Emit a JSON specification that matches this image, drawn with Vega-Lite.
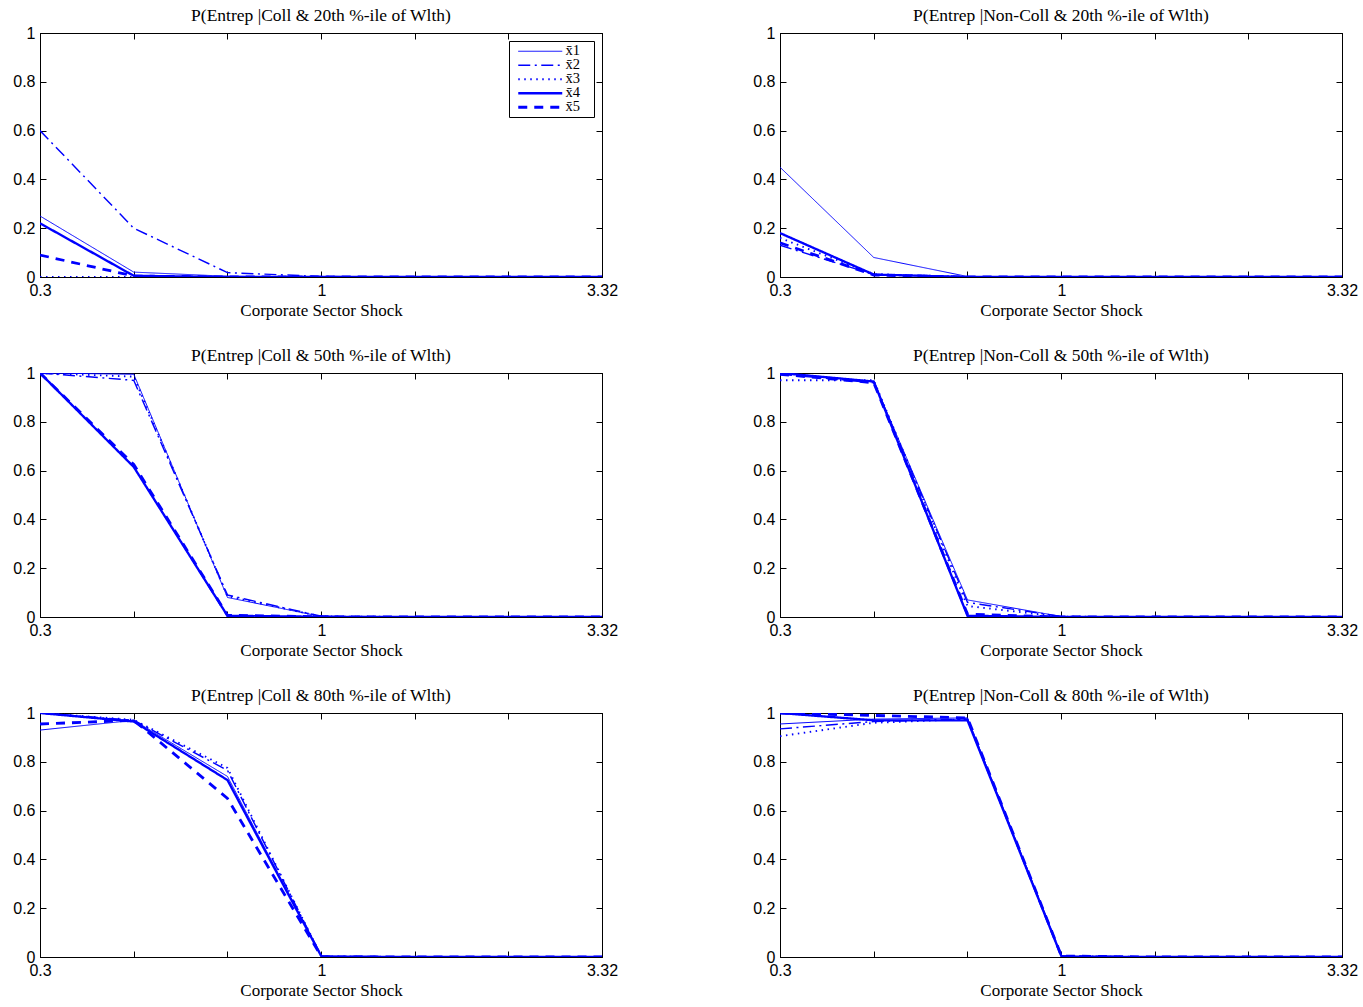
{
"$schema": "https://vega.github.io/schema/vega-lite/v6.json",
"padding": {"left": 12, "top": 6, "right": 5, "bottom": 5},
"background": "white",
"datasets": {"d": [
{"g":"A","s":"x1","x":0.3,"p":0.25},{"g":"A","s":"x1","x":0.448,"p":0.02},{"g":"A","s":"x1","x":0.669,"p":0.003},{"g":"A","s":"x1","x":1,"p":0},{"g":"A","s":"x1","x":1.49,"p":0},{"g":"A","s":"x1","x":2.224,"p":0},{"g":"A","s":"x1","x":3.32,"p":0},
{"g":"A","s":"x2","x":0.3,"p":0.6},{"g":"A","s":"x2","x":0.448,"p":0.2},{"g":"A","s":"x2","x":0.669,"p":0.018},{"g":"A","s":"x2","x":1,"p":0.002},{"g":"A","s":"x2","x":1.49,"p":0},{"g":"A","s":"x2","x":2.224,"p":0},{"g":"A","s":"x2","x":3.32,"p":0},
{"g":"A","s":"x3","x":0.3,"p":0},{"g":"A","s":"x3","x":0.448,"p":0},{"g":"A","s":"x3","x":0.669,"p":0},{"g":"A","s":"x3","x":1,"p":0},{"g":"A","s":"x3","x":1.49,"p":0},{"g":"A","s":"x3","x":2.224,"p":0},{"g":"A","s":"x3","x":3.32,"p":0},
{"g":"A","s":"x4","x":0.3,"p":0.22},{"g":"A","s":"x4","x":0.448,"p":0.005},{"g":"A","s":"x4","x":0.669,"p":0},{"g":"A","s":"x4","x":1,"p":0},{"g":"A","s":"x4","x":1.49,"p":0},{"g":"A","s":"x4","x":2.224,"p":0},{"g":"A","s":"x4","x":3.32,"p":0},
{"g":"A","s":"x5","x":0.3,"p":0.09},{"g":"A","s":"x5","x":0.448,"p":0.004},{"g":"A","s":"x5","x":0.669,"p":0},{"g":"A","s":"x5","x":1,"p":0},{"g":"A","s":"x5","x":1.49,"p":0},{"g":"A","s":"x5","x":2.224,"p":0},{"g":"A","s":"x5","x":3.32,"p":0},
{"g":"B","s":"x1","x":0.3,"p":0.45},{"g":"B","s":"x1","x":0.448,"p":0.08},{"g":"B","s":"x1","x":0.669,"p":0.002},{"g":"B","s":"x1","x":1,"p":0},{"g":"B","s":"x1","x":1.49,"p":0},{"g":"B","s":"x1","x":2.224,"p":0},{"g":"B","s":"x1","x":3.32,"p":0},
{"g":"B","s":"x2","x":0.3,"p":0.13},{"g":"B","s":"x2","x":0.448,"p":0.01},{"g":"B","s":"x2","x":0.669,"p":0},{"g":"B","s":"x2","x":1,"p":0},{"g":"B","s":"x2","x":1.49,"p":0},{"g":"B","s":"x2","x":2.224,"p":0},{"g":"B","s":"x2","x":3.32,"p":0},
{"g":"B","s":"x3","x":0.3,"p":0.16},{"g":"B","s":"x3","x":0.448,"p":0.012},{"g":"B","s":"x3","x":0.669,"p":0},{"g":"B","s":"x3","x":1,"p":0},{"g":"B","s":"x3","x":1.49,"p":0},{"g":"B","s":"x3","x":2.224,"p":0},{"g":"B","s":"x3","x":3.32,"p":0},
{"g":"B","s":"x4","x":0.3,"p":0.18},{"g":"B","s":"x4","x":0.448,"p":0.01},{"g":"B","s":"x4","x":0.669,"p":0},{"g":"B","s":"x4","x":1,"p":0},{"g":"B","s":"x4","x":1.49,"p":0},{"g":"B","s":"x4","x":2.224,"p":0},{"g":"B","s":"x4","x":3.32,"p":0},
{"g":"B","s":"x5","x":0.3,"p":0.14},{"g":"B","s":"x5","x":0.448,"p":0.008},{"g":"B","s":"x5","x":0.669,"p":0},{"g":"B","s":"x5","x":1,"p":0},{"g":"B","s":"x5","x":1.49,"p":0},{"g":"B","s":"x5","x":2.224,"p":0},{"g":"B","s":"x5","x":3.32,"p":0},
{"g":"C","s":"x1","x":0.3,"p":1},{"g":"C","s":"x1","x":0.448,"p":0.995},{"g":"C","s":"x1","x":0.669,"p":0.08},{"g":"C","s":"x1","x":1,"p":0.002},{"g":"C","s":"x1","x":1.49,"p":0},{"g":"C","s":"x1","x":2.224,"p":0},{"g":"C","s":"x1","x":3.32,"p":0},
{"g":"C","s":"x2","x":0.3,"p":1},{"g":"C","s":"x2","x":0.448,"p":0.97},{"g":"C","s":"x2","x":0.669,"p":0.09},{"g":"C","s":"x2","x":1,"p":0.003},{"g":"C","s":"x2","x":1.49,"p":0},{"g":"C","s":"x2","x":2.224,"p":0},{"g":"C","s":"x2","x":3.32,"p":0},
{"g":"C","s":"x3","x":0.3,"p":1},{"g":"C","s":"x3","x":0.448,"p":0.985},{"g":"C","s":"x3","x":0.669,"p":0.085},{"g":"C","s":"x3","x":1,"p":0.002},{"g":"C","s":"x3","x":1.49,"p":0},{"g":"C","s":"x3","x":2.224,"p":0},{"g":"C","s":"x3","x":3.32,"p":0},
{"g":"C","s":"x4","x":0.3,"p":1},{"g":"C","s":"x4","x":0.448,"p":0.615},{"g":"C","s":"x4","x":0.669,"p":0.005},{"g":"C","s":"x4","x":1,"p":0.001},{"g":"C","s":"x4","x":1.49,"p":0},{"g":"C","s":"x4","x":2.224,"p":0},{"g":"C","s":"x4","x":3.32,"p":0},
{"g":"C","s":"x5","x":0.3,"p":1},{"g":"C","s":"x5","x":0.448,"p":0.625},{"g":"C","s":"x5","x":0.669,"p":0.007},{"g":"C","s":"x5","x":1,"p":0.001},{"g":"C","s":"x5","x":1.49,"p":0},{"g":"C","s":"x5","x":2.224,"p":0},{"g":"C","s":"x5","x":3.32,"p":0},
{"g":"D","s":"x1","x":0.3,"p":1},{"g":"D","s":"x1","x":0.448,"p":0.965},{"g":"D","s":"x1","x":0.669,"p":0.07},{"g":"D","s":"x1","x":1,"p":0.002},{"g":"D","s":"x1","x":1.49,"p":0},{"g":"D","s":"x1","x":2.224,"p":0},{"g":"D","s":"x1","x":3.32,"p":0},
{"g":"D","s":"x2","x":0.3,"p":0.995},{"g":"D","s":"x2","x":0.448,"p":0.96},{"g":"D","s":"x2","x":0.669,"p":0.06},{"g":"D","s":"x2","x":1,"p":0.002},{"g":"D","s":"x2","x":1.49,"p":0},{"g":"D","s":"x2","x":2.224,"p":0},{"g":"D","s":"x2","x":3.32,"p":0},
{"g":"D","s":"x3","x":0.3,"p":0.97},{"g":"D","s":"x3","x":0.448,"p":0.97},{"g":"D","s":"x3","x":0.669,"p":0.045},{"g":"D","s":"x3","x":1,"p":0.001},{"g":"D","s":"x3","x":1.49,"p":0},{"g":"D","s":"x3","x":2.224,"p":0},{"g":"D","s":"x3","x":3.32,"p":0},
{"g":"D","s":"x4","x":0.3,"p":1},{"g":"D","s":"x4","x":0.448,"p":0.965},{"g":"D","s":"x4","x":0.669,"p":0.005},{"g":"D","s":"x4","x":1,"p":0},{"g":"D","s":"x4","x":1.49,"p":0},{"g":"D","s":"x4","x":2.224,"p":0},{"g":"D","s":"x4","x":3.32,"p":0},
{"g":"D","s":"x5","x":0.3,"p":0.995},{"g":"D","s":"x5","x":0.448,"p":0.96},{"g":"D","s":"x5","x":0.669,"p":0.012},{"g":"D","s":"x5","x":1,"p":0},{"g":"D","s":"x5","x":1.49,"p":0},{"g":"D","s":"x5","x":2.224,"p":0},{"g":"D","s":"x5","x":3.32,"p":0},
{"g":"E","s":"x1","x":0.3,"p":0.93},{"g":"E","s":"x1","x":0.448,"p":0.97},{"g":"E","s":"x1","x":0.669,"p":0.74},{"g":"E","s":"x1","x":1,"p":0.002},{"g":"E","s":"x1","x":1.49,"p":0},{"g":"E","s":"x1","x":2.224,"p":0},{"g":"E","s":"x1","x":3.32,"p":0},
{"g":"E","s":"x2","x":0.3,"p":1},{"g":"E","s":"x2","x":0.448,"p":0.97},{"g":"E","s":"x2","x":0.669,"p":0.765},{"g":"E","s":"x2","x":1,"p":0.003},{"g":"E","s":"x2","x":1.49,"p":0},{"g":"E","s":"x2","x":2.224,"p":0},{"g":"E","s":"x2","x":3.32,"p":0},
{"g":"E","s":"x3","x":0.3,"p":1},{"g":"E","s":"x3","x":0.448,"p":0.972},{"g":"E","s":"x3","x":0.669,"p":0.775},{"g":"E","s":"x3","x":1,"p":0.002},{"g":"E","s":"x3","x":1.49,"p":0},{"g":"E","s":"x3","x":2.224,"p":0},{"g":"E","s":"x3","x":3.32,"p":0},
{"g":"E","s":"x4","x":0.3,"p":1},{"g":"E","s":"x4","x":0.448,"p":0.965},{"g":"E","s":"x4","x":0.669,"p":0.725},{"g":"E","s":"x4","x":1,"p":0.002},{"g":"E","s":"x4","x":1.49,"p":0},{"g":"E","s":"x4","x":2.224,"p":0},{"g":"E","s":"x4","x":3.32,"p":0},
{"g":"E","s":"x5","x":0.3,"p":0.955},{"g":"E","s":"x5","x":0.448,"p":0.97},{"g":"E","s":"x5","x":0.669,"p":0.65},{"g":"E","s":"x5","x":1,"p":0.001},{"g":"E","s":"x5","x":1.49,"p":0},{"g":"E","s":"x5","x":2.224,"p":0},{"g":"E","s":"x5","x":3.32,"p":0},
{"g":"F","s":"x1","x":0.3,"p":0.955},{"g":"F","s":"x1","x":0.448,"p":0.975},{"g":"F","s":"x1","x":0.669,"p":0.98},{"g":"F","s":"x1","x":1,"p":0.003},{"g":"F","s":"x1","x":1.49,"p":0},{"g":"F","s":"x1","x":2.224,"p":0},{"g":"F","s":"x1","x":3.32,"p":0},
{"g":"F","s":"x2","x":0.3,"p":0.935},{"g":"F","s":"x2","x":0.448,"p":0.965},{"g":"F","s":"x2","x":0.669,"p":0.975},{"g":"F","s":"x2","x":1,"p":0.005},{"g":"F","s":"x2","x":1.49,"p":0},{"g":"F","s":"x2","x":2.224,"p":0},{"g":"F","s":"x2","x":3.32,"p":0},
{"g":"F","s":"x3","x":0.3,"p":0.905},{"g":"F","s":"x3","x":0.448,"p":0.96},{"g":"F","s":"x3","x":0.669,"p":0.975},{"g":"F","s":"x3","x":1,"p":0.003},{"g":"F","s":"x3","x":1.49,"p":0},{"g":"F","s":"x3","x":2.224,"p":0},{"g":"F","s":"x3","x":3.32,"p":0},
{"g":"F","s":"x4","x":0.3,"p":1},{"g":"F","s":"x4","x":0.448,"p":0.97},{"g":"F","s":"x4","x":0.669,"p":0.97},{"g":"F","s":"x4","x":1,"p":0.002},{"g":"F","s":"x4","x":1.49,"p":0},{"g":"F","s":"x4","x":2.224,"p":0},{"g":"F","s":"x4","x":3.32,"p":0},
{"g":"F","s":"x5","x":0.3,"p":1},{"g":"F","s":"x5","x":0.448,"p":0.99},{"g":"F","s":"x5","x":0.669,"p":0.98},{"g":"F","s":"x5","x":1,"p":0.004},{"g":"F","s":"x5","x":1.49,"p":0},{"g":"F","s":"x5","x":2.224,"p":0},{"g":"F","s":"x5","x":3.32,"p":0}
]},
"columns": 2,
"spacing": {"row": 96, "column": 178},
"bounds": "flush",
"resolve": {"scale": {"strokeDash": "independent", "strokeWidth": "independent"}, "legend": {"strokeDash": "independent", "strokeWidth": "independent"}},
"concat": [
{"title": {"text": "P(Entrep |Coll & 20th %-ile of Wlth)"}, "width": 562, "height": 244, "data": {"name": "d"}, "transform": [{"filter": "datum.g == 'A'"}],
 "layer": [
  {"mark": {"type": "line", "color": "#0000ff", "clip": true},
   "encoding": {
    "x": {"field": "x", "type": "quantitative", "scale": {"type": "log", "domain": [0.3, 3.32], "nice": false}, "axis": {"orient": "bottom", "values": [0.3, 0.448, 0.669, 1, 1.49, 2.224, 3.32], "labelExpr": "datum.value == 0.3 ? '0.3' : datum.value == 1 ? '1' : datum.value == 3.32 ? '3.32' : ''", "title": "Corporate Sector Shock"}},
    "y": {"field": "p", "type": "quantitative", "scale": {"domain": [0, 1], "nice": false}, "axis": {"orient": "left", "values": [0, 0.2, 0.4, 0.6, 0.8, 1], "format": "~g", "title": null}},
    "strokeDash": {"field": "s", "type": "nominal", "scale": {"domain": ["x1", "x2", "x3", "x4", "x5"], "range": [[1, 0], [12, 4.5, 2, 4.5], [1.5, 4.5], [1, 0], [9, 7]]},
      "legend": {"orient": "top-right", "offset": 8, "title": null, "fillColor": "white", "strokeColor": "black", "padding": 3, "symbolType": "M-0.33,0H14.33", "symbolSize": 36, "symbolStrokeColor": "#0000ff", "symbolFillColor": "transparent", "labelOffset": 39, "labelFont": "Liberation Serif", "labelFontSize": 14.5, "rowPadding": -1, "labelExpr": "'x\u0304' + substring(datum.label, 1) + '\u2800'"}},
    "strokeWidth": {"field": "s", "type": "nominal", "scale": {"domain": ["x1", "x2", "x3", "x4", "x5"], "range": [1, 2.8, 1.5, 3, 2.8]},
      "legend": {"orient": "top-right", "offset": 8, "title": null, "fillColor": "white", "strokeColor": "black", "padding": 3, "symbolType": "M-0.33,0H14.33", "symbolSize": 36, "symbolStrokeColor": "#0000ff", "symbolFillColor": "transparent", "labelOffset": 39, "labelFont": "Liberation Serif", "labelFontSize": 14.5, "rowPadding": -1, "labelExpr": "'x\u0304' + substring(datum.label, 1) + '\u2800'"}}
   }},
  {"mark": {"type": "line", "strokeOpacity": 0},
   "encoding": {
    "x": {"field": "x", "type": "quantitative", "scale": {"type": "log", "domain": [0.3, 3.32], "nice": false}, "axis": {"orient": "top", "values": [0.3, 0.448, 0.669, 1, 1.49, 2.224, 3.32], "labels": false, "title": null}},
    "y": {"field": "p", "type": "quantitative", "scale": {"domain": [0, 1], "nice": false}, "axis": {"orient": "right", "values": [0, 0.2, 0.4, 0.6, 0.8, 1], "labels": false, "title": null}}
   }}
 ],
 "resolve": {"axis": {"x": "independent", "y": "independent"}}
},
{"title": {"text": "P(Entrep |Non-Coll & 20th %-ile of Wlth)"}, "width": 562, "height": 244, "data": {"name": "d"}, "transform": [{"filter": "datum.g == 'B'"}],
 "layer": [
  {"mark": {"type": "line", "color": "#0000ff", "clip": true},
   "encoding": {
    "x": {"field": "x", "type": "quantitative", "scale": {"type": "log", "domain": [0.3, 3.32], "nice": false}, "axis": {"orient": "bottom", "values": [0.3, 0.448, 0.669, 1, 1.49, 2.224, 3.32], "labelExpr": "datum.value == 0.3 ? '0.3' : datum.value == 1 ? '1' : datum.value == 3.32 ? '3.32' : ''", "title": "Corporate Sector Shock"}},
    "y": {"field": "p", "type": "quantitative", "scale": {"domain": [0, 1], "nice": false}, "axis": {"orient": "left", "values": [0, 0.2, 0.4, 0.6, 0.8, 1], "format": "~g", "title": null}},
    "strokeDash": {"field": "s", "type": "nominal", "scale": {"domain": ["x1", "x2", "x3", "x4", "x5"], "range": [[1, 0], [12, 4.5, 2, 4.5], [1.5, 4.5], [1, 0], [9, 7]]}, "legend": null},
    "strokeWidth": {"field": "s", "type": "nominal", "scale": {"domain": ["x1", "x2", "x3", "x4", "x5"], "range": [1, 2.8, 1.5, 3, 2.8]}, "legend": null}
   }},
  {"mark": {"type": "line", "strokeOpacity": 0},
   "encoding": {
    "x": {"field": "x", "type": "quantitative", "scale": {"type": "log", "domain": [0.3, 3.32], "nice": false}, "axis": {"orient": "top", "values": [0.3, 0.448, 0.669, 1, 1.49, 2.224, 3.32], "labels": false, "title": null}},
    "y": {"field": "p", "type": "quantitative", "scale": {"domain": [0, 1], "nice": false}, "axis": {"orient": "right", "values": [0, 0.2, 0.4, 0.6, 0.8, 1], "labels": false, "title": null}}
   }}
 ],
 "resolve": {"axis": {"x": "independent", "y": "independent"}}
},
{"title": {"text": "P(Entrep |Coll & 50th %-ile of Wlth)"}, "width": 562, "height": 244, "data": {"name": "d"}, "transform": [{"filter": "datum.g == 'C'"}],
 "layer": [
  {"mark": {"type": "line", "color": "#0000ff", "clip": true},
   "encoding": {
    "x": {"field": "x", "type": "quantitative", "scale": {"type": "log", "domain": [0.3, 3.32], "nice": false}, "axis": {"orient": "bottom", "values": [0.3, 0.448, 0.669, 1, 1.49, 2.224, 3.32], "labelExpr": "datum.value == 0.3 ? '0.3' : datum.value == 1 ? '1' : datum.value == 3.32 ? '3.32' : ''", "title": "Corporate Sector Shock"}},
    "y": {"field": "p", "type": "quantitative", "scale": {"domain": [0, 1], "nice": false}, "axis": {"orient": "left", "values": [0, 0.2, 0.4, 0.6, 0.8, 1], "format": "~g", "title": null}},
    "strokeDash": {"field": "s", "type": "nominal", "scale": {"domain": ["x1", "x2", "x3", "x4", "x5"], "range": [[1, 0], [12, 4.5, 2, 4.5], [1.5, 4.5], [1, 0], [9, 7]]}, "legend": null},
    "strokeWidth": {"field": "s", "type": "nominal", "scale": {"domain": ["x1", "x2", "x3", "x4", "x5"], "range": [1, 2.8, 1.5, 3, 2.8]}, "legend": null}
   }},
  {"mark": {"type": "line", "strokeOpacity": 0},
   "encoding": {
    "x": {"field": "x", "type": "quantitative", "scale": {"type": "log", "domain": [0.3, 3.32], "nice": false}, "axis": {"orient": "top", "values": [0.3, 0.448, 0.669, 1, 1.49, 2.224, 3.32], "labels": false, "title": null}},
    "y": {"field": "p", "type": "quantitative", "scale": {"domain": [0, 1], "nice": false}, "axis": {"orient": "right", "values": [0, 0.2, 0.4, 0.6, 0.8, 1], "labels": false, "title": null}}
   }}
 ],
 "resolve": {"axis": {"x": "independent", "y": "independent"}}
},
{"title": {"text": "P(Entrep |Non-Coll & 50th %-ile of Wlth)"}, "width": 562, "height": 244, "data": {"name": "d"}, "transform": [{"filter": "datum.g == 'D'"}],
 "layer": [
  {"mark": {"type": "line", "color": "#0000ff", "clip": true},
   "encoding": {
    "x": {"field": "x", "type": "quantitative", "scale": {"type": "log", "domain": [0.3, 3.32], "nice": false}, "axis": {"orient": "bottom", "values": [0.3, 0.448, 0.669, 1, 1.49, 2.224, 3.32], "labelExpr": "datum.value == 0.3 ? '0.3' : datum.value == 1 ? '1' : datum.value == 3.32 ? '3.32' : ''", "title": "Corporate Sector Shock"}},
    "y": {"field": "p", "type": "quantitative", "scale": {"domain": [0, 1], "nice": false}, "axis": {"orient": "left", "values": [0, 0.2, 0.4, 0.6, 0.8, 1], "format": "~g", "title": null}},
    "strokeDash": {"field": "s", "type": "nominal", "scale": {"domain": ["x1", "x2", "x3", "x4", "x5"], "range": [[1, 0], [12, 4.5, 2, 4.5], [1.5, 4.5], [1, 0], [9, 7]]}, "legend": null},
    "strokeWidth": {"field": "s", "type": "nominal", "scale": {"domain": ["x1", "x2", "x3", "x4", "x5"], "range": [1, 2.8, 1.5, 3, 2.8]}, "legend": null}
   }},
  {"mark": {"type": "line", "strokeOpacity": 0},
   "encoding": {
    "x": {"field": "x", "type": "quantitative", "scale": {"type": "log", "domain": [0.3, 3.32], "nice": false}, "axis": {"orient": "top", "values": [0.3, 0.448, 0.669, 1, 1.49, 2.224, 3.32], "labels": false, "title": null}},
    "y": {"field": "p", "type": "quantitative", "scale": {"domain": [0, 1], "nice": false}, "axis": {"orient": "right", "values": [0, 0.2, 0.4, 0.6, 0.8, 1], "labels": false, "title": null}}
   }}
 ],
 "resolve": {"axis": {"x": "independent", "y": "independent"}}
},
{"title": {"text": "P(Entrep |Coll & 80th %-ile of Wlth)"}, "width": 562, "height": 244, "data": {"name": "d"}, "transform": [{"filter": "datum.g == 'E'"}],
 "layer": [
  {"mark": {"type": "line", "color": "#0000ff", "clip": true},
   "encoding": {
    "x": {"field": "x", "type": "quantitative", "scale": {"type": "log", "domain": [0.3, 3.32], "nice": false}, "axis": {"orient": "bottom", "values": [0.3, 0.448, 0.669, 1, 1.49, 2.224, 3.32], "labelExpr": "datum.value == 0.3 ? '0.3' : datum.value == 1 ? '1' : datum.value == 3.32 ? '3.32' : ''", "title": "Corporate Sector Shock"}},
    "y": {"field": "p", "type": "quantitative", "scale": {"domain": [0, 1], "nice": false}, "axis": {"orient": "left", "values": [0, 0.2, 0.4, 0.6, 0.8, 1], "format": "~g", "title": null}},
    "strokeDash": {"field": "s", "type": "nominal", "scale": {"domain": ["x1", "x2", "x3", "x4", "x5"], "range": [[1, 0], [12, 4.5, 2, 4.5], [1.5, 4.5], [1, 0], [9, 7]]}, "legend": null},
    "strokeWidth": {"field": "s", "type": "nominal", "scale": {"domain": ["x1", "x2", "x3", "x4", "x5"], "range": [1, 2.8, 1.5, 3, 2.8]}, "legend": null}
   }},
  {"mark": {"type": "line", "strokeOpacity": 0},
   "encoding": {
    "x": {"field": "x", "type": "quantitative", "scale": {"type": "log", "domain": [0.3, 3.32], "nice": false}, "axis": {"orient": "top", "values": [0.3, 0.448, 0.669, 1, 1.49, 2.224, 3.32], "labels": false, "title": null}},
    "y": {"field": "p", "type": "quantitative", "scale": {"domain": [0, 1], "nice": false}, "axis": {"orient": "right", "values": [0, 0.2, 0.4, 0.6, 0.8, 1], "labels": false, "title": null}}
   }}
 ],
 "resolve": {"axis": {"x": "independent", "y": "independent"}}
},
{"title": {"text": "P(Entrep |Non-Coll & 80th %-ile of Wlth)"}, "width": 562, "height": 244, "data": {"name": "d"}, "transform": [{"filter": "datum.g == 'F'"}],
 "layer": [
  {"mark": {"type": "line", "color": "#0000ff", "clip": true},
   "encoding": {
    "x": {"field": "x", "type": "quantitative", "scale": {"type": "log", "domain": [0.3, 3.32], "nice": false}, "axis": {"orient": "bottom", "values": [0.3, 0.448, 0.669, 1, 1.49, 2.224, 3.32], "labelExpr": "datum.value == 0.3 ? '0.3' : datum.value == 1 ? '1' : datum.value == 3.32 ? '3.32' : ''", "title": "Corporate Sector Shock"}},
    "y": {"field": "p", "type": "quantitative", "scale": {"domain": [0, 1], "nice": false}, "axis": {"orient": "left", "values": [0, 0.2, 0.4, 0.6, 0.8, 1], "format": "~g", "title": null}},
    "strokeDash": {"field": "s", "type": "nominal", "scale": {"domain": ["x1", "x2", "x3", "x4", "x5"], "range": [[1, 0], [12, 4.5, 2, 4.5], [1.5, 4.5], [1, 0], [9, 7]]}, "legend": null},
    "strokeWidth": {"field": "s", "type": "nominal", "scale": {"domain": ["x1", "x2", "x3", "x4", "x5"], "range": [1, 2.8, 1.5, 3, 2.8]}, "legend": null}
   }},
  {"mark": {"type": "line", "strokeOpacity": 0},
   "encoding": {
    "x": {"field": "x", "type": "quantitative", "scale": {"type": "log", "domain": [0.3, 3.32], "nice": false}, "axis": {"orient": "top", "values": [0.3, 0.448, 0.669, 1, 1.49, 2.224, 3.32], "labels": false, "title": null}},
    "y": {"field": "p", "type": "quantitative", "scale": {"domain": [0, 1], "nice": false}, "axis": {"orient": "right", "values": [0, 0.2, 0.4, 0.6, 0.8, 1], "labels": false, "title": null}}
   }}
 ],
 "resolve": {"axis": {"x": "independent", "y": "independent"}}
}
],
"config": {
 "view": {"stroke": "black", "strokeWidth": 1},
 "axis": {"grid": false, "domainColor": "black", "tickColor": "black", "labelColor": "black", "titleColor": "black", "labelFont": "Liberation Sans", "labelFontSize": 16, "titleFont": "Liberation Serif", "titleFontSize": 17, "titleFontWeight": "normal", "tickSize": -6, "labelPadding": 11, "titlePadding": 4, "labelFlush": false, "labelOverlap": false, "labelBound": false},
 "title": {"font": "Liberation Serif", "fontSize": 17.5, "fontWeight": "normal", "color": "black", "offset": 1, "anchor": "middle"}
}
}
